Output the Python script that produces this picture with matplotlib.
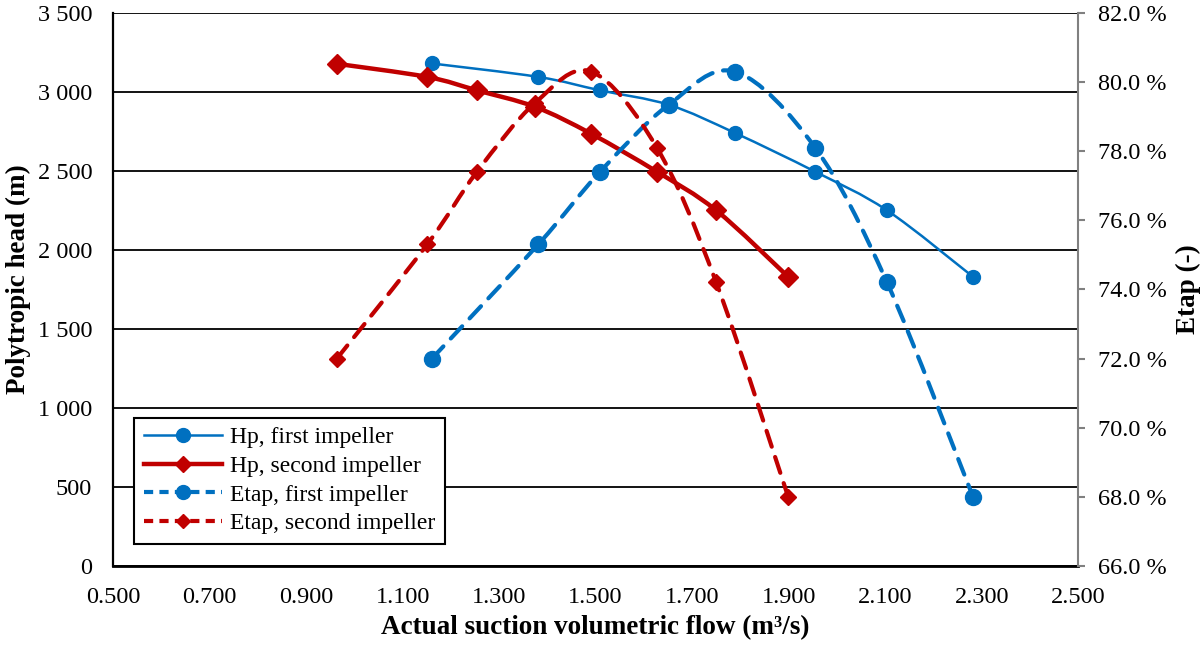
import numpy as np
import matplotlib
matplotlib.use("Agg")
from matplotlib import pyplot as plt
from matplotlib.path import Path
from matplotlib.patches import PathPatch
from matplotlib.lines import Line2D
from matplotlib.ticker import FuncFormatter, MultipleLocator

plt.rcParams['font.family'] = ['Liberation Serif', 'DejaVu Serif']

# data
flow_first = [1.161, 1.381, 1.509, 1.652, 1.789, 1.955, 2.104, 2.282]
flow_second = [0.964, 1.151, 1.254, 1.375, 1.491, 1.627, 1.750, 1.899]
hp_first = [3180, 3095, 3010, 2918, 2740, 2495, 2250, 1830]
hp_second = [3178, 3095, 3010, 2905, 2735, 2495, 2250, 1830]
etap_first = [72.0, 75.3, 77.4, 79.35, 80.3, 78.1, 74.2, 68.0]
etap_second = [72.0, 75.3, 77.4, 79.4, 80.3, 78.1, 74.2, 68.0]
x_ticks = [0.5, 0.7, 0.9, 1.1, 1.3, 1.5, 1.7, 1.9, 2.1, 2.3, 2.5]

BLUE = '#0070C0'
RED = '#C00000'


def smooth_path(xs, ys):
    # Excel-like smoothed line: cubic Bezier through the points (Catmull-Rom)
    P = np.column_stack([xs, ys]).astype(float)
    n = len(P)
    verts = [P[0]]
    codes = [Path.MOVETO]
    for i in range(n - 1):
        prev = P[i - 1] if i > 0 else P[i]
        nxt = P[i + 2] if i + 2 < n else P[i + 1]
        c1 = P[i] + (P[i + 1] - prev) / 6.0
        c2 = P[i + 1] - (nxt - P[i]) / 6.0
        verts += [c1, c2, P[i + 1]]
        codes += [Path.CURVE4] * 3
    return Path(verts, codes)


fig = plt.figure(figsize=(12.02, 6.46), dpi=100)
ax = fig.add_axes([0.094, 0.124, 0.803, 0.856])
ax2 = ax.twinx()

# primary axis: polytropic head
ax.add_patch(PathPatch(smooth_path(flow_first, hp_first), fill=False,
                       edgecolor=BLUE, lw=1.8, zorder=3))
ax.plot(flow_first, hp_first, ls='none', marker='o', ms=10, color=BLUE, zorder=4)
ax.add_patch(PathPatch(smooth_path(flow_second, hp_second), fill=False,
                       edgecolor=RED, lw=3.2, zorder=3))
ax.plot(flow_second, hp_second, ls='none', marker='D', ms=10, color=RED, zorder=4)

# secondary axis: efficiency
ax2.add_patch(PathPatch(smooth_path(flow_first, etap_first), fill=False,
                        edgecolor=BLUE, lw=3.0, linestyle=(0, (4, 2.6)),
                        capstyle='round', zorder=3))
ax2.plot(flow_first, etap_first, ls='none', marker='o', ms=11.5, color=BLUE, zorder=4)
ax2.add_patch(PathPatch(smooth_path(flow_second, etap_second), fill=False,
                        edgecolor=RED, lw=3.0, linestyle=(0, (4, 2.6)),
                        capstyle='round', zorder=3))
ax2.plot(flow_second, etap_second, ls='none', marker='D', ms=8.5, color=RED, zorder=4)

ax.set_xlim(0.5, 2.5)
ax.set_ylim(0, 3500)
ax2.set_ylim(66, 82)
ax.set_xticks(x_ticks)
ax.yaxis.set_major_locator(MultipleLocator(500))
ax2.yaxis.set_major_locator(MultipleLocator(2))
ax.xaxis.set_major_formatter(FuncFormatter(lambda v, p: f"{v:.3f}"))
ax.yaxis.set_major_formatter(FuncFormatter(lambda v, p: f"{int(round(v)):,}".replace(',', ' ')))
ax2.yaxis.set_major_formatter(FuncFormatter(lambda v, p: f"{v:.1f} %"))

ax.grid(axis='y', color='black', lw=1.3)
ax.set_axisbelow(True)
for s in ['top', 'right']:
    ax.spines[s].set_visible(False)
ax.spines['left'].set_linewidth(1.6)
ax.spines['bottom'].set_linewidth(2.0)
for s in ['top', 'left', 'bottom']:
    ax2.spines[s].set_visible(False)
ax2.spines['right'].set_color('#808080')
ax2.spines['right'].set_linewidth(1.5)

ax.tick_params(axis='x', length=0, labelsize=17.5, pad=15)
ax.tick_params(axis='y', length=0, labelsize=17.5, pad=15)
ax2.tick_params(axis='y', length=5, width=1.5, color='#808080', labelsize=17.5, pad=9)

ax.set_xlabel('Actual suction volumetric flow (m³/s)', fontsize=19.5, fontweight='bold', labelpad=5)
ax.set_ylabel('Polytropic head (m)', fontsize=19.5, fontweight='bold')
ax.yaxis.set_label_coords(-0.085, 0.518)
ax2.set_ylabel('Etap (-)', fontsize=19.5, fontweight='bold')
ax2.yaxis.set_label_coords(1.101, 0.5)

handles = [
    Line2D([], [], color=BLUE, lw=1.8, marker='o', ms=10),
    Line2D([], [], color=RED, lw=3.2, marker='D', ms=8),
    Line2D([], [], color=BLUE, lw=3.0, ls=(0, (2.2, 1.5)), marker='o', ms=10),
    Line2D([], [], color=RED, lw=3.0, ls=(0, (2.2, 1.5)), marker='D', ms=7),
]
labels = ['Hp, first impeller', 'Hp, second impeller',
          'Etap, first impeller', 'Etap, second impeller']
leg = ax2.legend(handles, labels, loc='lower left', bbox_to_anchor=(0.022, 0.04),
                 fontsize=17, frameon=True, fancybox=False, edgecolor='black',
                 framealpha=1, borderaxespad=0, handlelength=3.3, handletextpad=0.35,
                 labelspacing=0.3, borderpad=0.4)
leg.get_frame().set_linewidth(1.5)

fig.savefig('out.png', dpi=100)
